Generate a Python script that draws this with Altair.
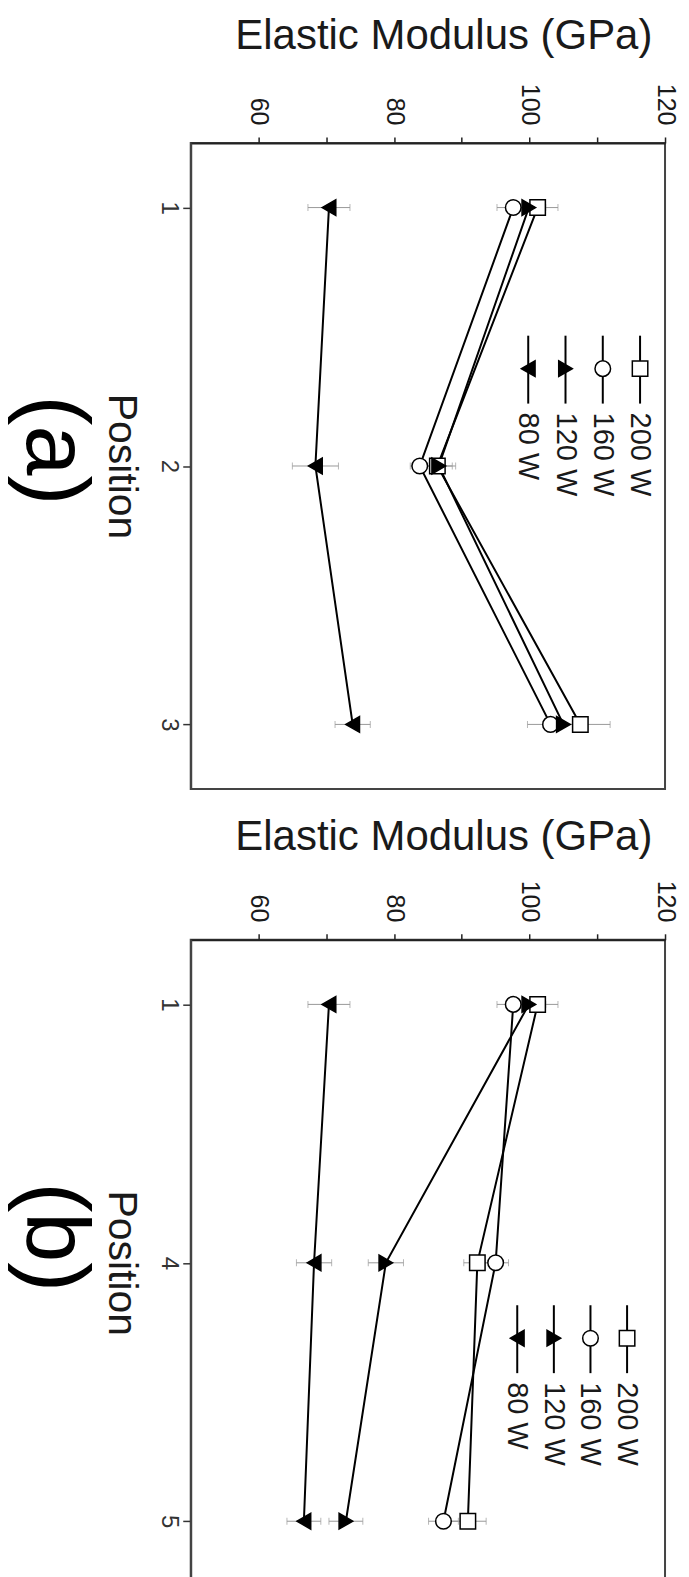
import altair as alt
import pandas as pd

# ---------------- data ----------------
SERIES = ["200 W", "160 W", "120 W", "80 W"]
SHAPES = ["square", "circle", "triangle-right", "triangle-left"]
FILLS = ["white", "white", "black", "black"]
SIZES = [240, 250, 300, 300]

POS_INDEX = [1, 2, 3]
LABELS_A = ["1", "2", "3"]
LABELS_B = ["1", "4", "5"]

# panel (a)
A_200 = [101.2, 86.4, 107.5]
A_160 = [97.6, 83.8, 103.1]
A_120 = [99.9, 86.6, 105.0]
A_80 = [70.4, 68.4, 73.9]
A_ERR_200 = [3.0, 2.2, 4.4]
A_ERR_160 = [2.4, 1.4, 3.4]
A_ERR_120 = [2.5, 2.5, 3.0]
A_ERR_80 = [3.1, 3.4, 2.6]

# panel (b)
B_200 = [101.2, 92.3, 90.9]
B_160 = [97.6, 95.0, 87.3]
B_120 = [99.9, 78.8, 72.9]
B_80 = [70.4, 68.2, 66.7]
B_ERR_200 = [3.0, 2.0, 2.7]
B_ERR_160 = [2.4, 1.9, 2.2]
B_ERR_120 = [2.5, 2.6, 2.5]
B_ERR_80 = [3.1, 2.6, 2.5]

FONT = "Liberation Sans"
TXT = "#1a1a1a"


def build_df(vals, errs):
    rows = []
    for s, v, e in zip(SERIES, vals, errs):
        for p, vv, ee in zip(POS_INDEX, v, e):
            rows.append({"series": s, "pos": p, "val": vv, "err": ee,
                         "lo": vv - ee, "hi": vv + ee})
    return pd.DataFrame(rows)


def panel(df, tick_labels, tag, leg_range, leg_y, tag_y, title_pad):
    lab_expr = "[" + ",".join("'%s'" % t for t in tick_labels) + "][datum.value - 1]"
    xaxis = alt.Axis(orient="top", values=[60, 70, 80, 90, 100, 110, 120],
                     labelExpr="datum.value % 20 == 0 ? datum.label : ''",
                     labelAngle=90, labelAlign="right", labelBaseline="middle",
                     labelFontSize=25, labelPadding=12, labelColor=TXT,
                     labelFlush=False, labelOverlap=False,
                     tickSize=6, tickColor="#222", tickWidth=1.5,
                     domainColor="#222", domainWidth=2, grid=False,
                     title="Elastic Modulus (GPa)", titleFontSize=42,
                     titleFontWeight="normal", titleColor=TXT,
                     titlePadding=title_pad, titleX=253)
    yaxis = alt.Axis(orient="left", values=POS_INDEX, labelExpr=lab_expr,
                     labelAngle=90, labelAlign="center", labelBaseline="top",
                     labelFontSize=24, labelPadding=2, labelColor="#333",
                     labelFlush=False,
                     tickSize=8, tickColor="#333", tickWidth=1.5,
                     domainColor="#444", domainWidth=2, grid=False,
                     title="Position", titleAngle=90, titleBaseline="top",
                     titleFontSize=41, titleFontWeight="normal", titleColor=TXT,
                     titlePadding=16)
    xs = alt.Scale(domain=[50, 120], nice=False, zero=False)
    ys = alt.Scale(domain=[0.75, 3.25], nice=False, zero=False, reverse=True)

    def X(f):
        return alt.X(f, scale=xs, axis=xaxis)

    Y = alt.Y("pos:Q", scale=ys, axis=yaxis)

    shape = alt.Shape("series:N", scale=alt.Scale(domain=SERIES, range=SHAPES), legend=None)
    fill = alt.Fill("series:N", scale=alt.Scale(domain=SERIES, range=FILLS), legend=None)
    size = alt.Size("series:N", scale=alt.Scale(domain=SERIES, range=SIZES), legend=None)

    base = alt.Chart(df)
    err = base.mark_rule(color="#999", strokeWidth=1).encode(x=X("lo:Q"), x2="hi:Q", y=Y)
    cap_lo = base.mark_tick(orient="vertical", size=7, thickness=1, color="#999").encode(x=X("lo:Q"), y=Y)
    cap_hi = base.mark_tick(orient="vertical", size=7, thickness=1, color="#999").encode(x=X("hi:Q"), y=Y)
    line = base.mark_line(color="black", strokeWidth=2).encode(
        x=X("val:Q"), y=Y, detail="series:N", order="pos:Q")
    pts = base.mark_point(filled=True, stroke="black", strokeWidth=1.5, opacity=1).encode(
        x=X("val:Q"), y=Y, shape=shape, fill=fill, size=size)
    main = alt.layer(err, cap_lo, cap_hi, line, pts)

    leg_df = pd.DataFrame({"series": SERIES})
    lx = alt.X("series:N", scale=alt.Scale(type="point", domain=SERIES, range=leg_range, padding=0), axis=None)
    lbase = alt.Chart(leg_df)
    l_rule = lbase.mark_rule(color="black", strokeWidth=2).encode(
        x=lx, y=alt.value(leg_y - 33), y2=alt.value(leg_y + 35))
    l_pts = lbase.mark_point(filled=True, stroke="black", strokeWidth=1.5, opacity=1).encode(
        x=lx, y=alt.value(leg_y), shape=shape, fill=fill, size=size)
    l_txt = lbase.mark_text(angle=90, align="left", baseline="middle", fontSize=29,
                            color=TXT).encode(x=lx, y=alt.value(leg_y + 44), text="series:N")
    legend = alt.layer(l_rule, l_pts, l_txt)

    tag_df = pd.DataFrame({"tag": [tag]})
    tag_mark = alt.Chart(tag_df).mark_text(angle=90, align="center", baseline="middle",
                                           fontSize=90, color="black").encode(
        x=alt.value(-137), y=alt.value(tag_y), text="tag:N")

    return alt.layer(main, legend, tag_mark).resolve_scale(x="independent").properties(
        width=475, height=647)


df_a = build_df([A_200, A_160, A_120, A_80], [A_ERR_200, A_ERR_160, A_ERR_120, A_ERR_80])
df_b = build_df([B_200, B_160, B_120, B_80], [B_ERR_200, B_ERR_160, B_ERR_120, B_ERR_80])

pa = panel(df_a, LABELS_A, "(a)", [450, 338], 226, 308, 26)
pb = panel(df_b, LABELS_B, "(b)", [437, 327], 399, 298, 22)

chart = alt.vconcat(pa, pb, spacing=24).configure(
    font=FONT, padding={"top": 4, "left": 0, "right": 3, "bottom": 0}
).configure_view(stroke="#444", strokeWidth=2)

chart.save("out.html", embed_options={"renderer": "svg", "actions": False})
